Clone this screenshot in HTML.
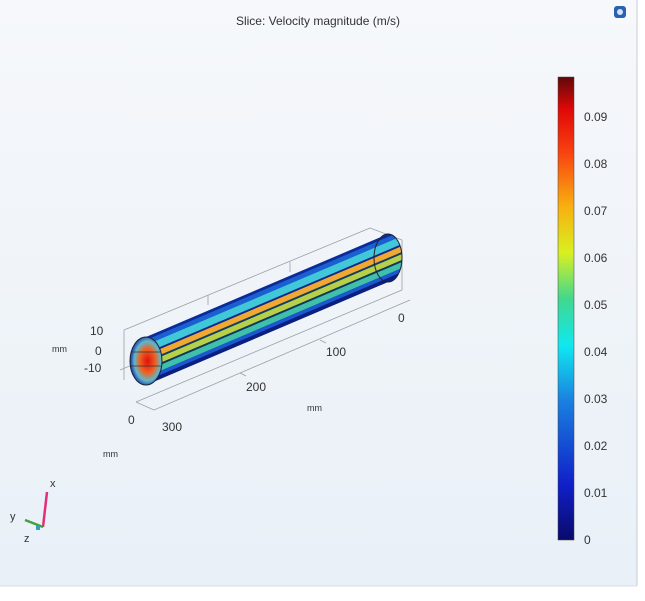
<!DOCTYPE html>
<html><head><style>
body{margin:0;width:645px;height:596px;background:#fff;overflow:hidden;font-family:"Liberation Sans",sans-serif;}
</style></head><body>
<svg width="645" height="596" viewBox="0 0 645 596" xmlns="http://www.w3.org/2000/svg" font-family="Liberation Sans, sans-serif">
<defs>
<linearGradient id="bg" x1="0" y1="0" x2="0" y2="1"><stop offset="0" stop-color="#f6f8fb"/><stop offset="1" stop-color="#e9f0f7"/></linearGradient>
<linearGradient id="cb" x1="0" y1="1" x2="0" y2="0">
<stop offset="0" stop-color="#0a0a6a"/><stop offset="0.12" stop-color="#1020c8"/><stop offset="0.3" stop-color="#1a80e0"/><stop offset="0.42" stop-color="#10e8f0"/><stop offset="0.52" stop-color="#40d890"/><stop offset="0.62" stop-color="#d8f020"/><stop offset="0.72" stop-color="#f8b010"/><stop offset="0.84" stop-color="#f84010"/><stop offset="0.93" stop-color="#e00808"/><stop offset="1" stop-color="#600808"/>
</linearGradient>
<radialGradient id="heat" cx="0.55" cy="0.5" r="0.55"><stop offset="0" stop-color="#e01010"/><stop offset="0.45" stop-color="#f06020"/><stop offset="0.75" stop-color="#60b8c8"/><stop offset="1" stop-color="#1030b0"/></radialGradient>
<clipPath id="cyl">
<polygon points="146,337 388,234 388,282 146,385"/>
<ellipse cx="388" cy="258" rx="14" ry="24"/>
</clipPath>
</defs>
<rect x="0" y="0" width="637" height="586" fill="url(#bg)"/>
<line x1="637" y1="0" x2="637" y2="586" stroke="#c8ccd2"/>
<line x1="0" y1="586" x2="637" y2="586" stroke="#d8dce0"/>
<text x="318" y="25" font-size="12" fill="#333" text-anchor="middle">Slice: Velocity magnitude (m/s)</text>
<rect x="614" y="6" width="12" height="12" rx="3" fill="#2a60b0"/><circle cx="620" cy="12" r="3" fill="#cfe4ff"/>
<g stroke="#9aa0a8" stroke-width="0.8" fill="none">
<line x1="124" y1="330" x2="370" y2="228"/><line x1="124" y1="330" x2="124" y2="380"/>
<line x1="136" y1="402" x2="402" y2="290"/><line x1="154" y1="410" x2="410" y2="300"/>
<line x1="120" y1="370" x2="368" y2="268"/><line x1="136" y1="402" x2="154" y2="410"/>
<line x1="208" y1="295" x2="208" y2="305"/><line x1="290" y1="262" x2="290" y2="272"/>
<line x1="240" y1="373" x2="246" y2="376"/><line x1="320" y1="340" x2="326" y2="343"/>
<line x1="370" y1="228" x2="402" y2="240"/><line x1="402" y1="240" x2="402" y2="290"/>
</g>
<g clip-path="url(#cyl)">
<g transform="matrix(242,-103,0,1,146,361)">
<rect x="0" y="-26" width="1.1" height="52" fill="#0c2a9a"/>
<rect x="0" y="-21" width="1.1" height="5" fill="#1a60d0"/>
<rect x="0" y="-16" width="1.1" height="8" fill="#40c8d8"/>
<rect x="0" y="-8" width="1.1" height="2" fill="#12288a"/>
<rect x="0" y="-6" width="1.1" height="6" fill="#f0a830"/>
<rect x="0" y="0" width="1.1" height="2" fill="#104060"/>
<rect x="0" y="2" width="1.1" height="6" fill="#b8d048"/>
<rect x="0" y="8" width="1.1" height="2" fill="#0e3a5a"/>
<rect x="0" y="10" width="1.1" height="6" fill="#40c0a8"/>
<rect x="0" y="16" width="1.1" height="4" fill="#1a58d0"/>
<rect x="0" y="20" width="1.1" height="6" fill="#0c1e80"/>
</g>
</g>
<ellipse cx="388" cy="258" rx="14" ry="24" fill="none" stroke="#223" stroke-width="1"/>
<ellipse cx="146" cy="361" rx="16" ry="24" fill="url(#heat)" stroke="#223" stroke-width="1"/>
<g stroke="#333" stroke-width="0.8"><line x1="131" y1="352" x2="161" y2="352"/><line x1="131" y1="366" x2="161" y2="366"/></g>
<g font-size="12" fill="#333">
<text x="90" y="335">10</text><text x="95" y="355">0</text><text x="84" y="372">-10</text>
<text x="52" y="352" font-size="9">mm</text>
<text x="128" y="424">0</text><text x="162" y="431">300</text>
<text x="103" y="457" font-size="9">mm</text>
<text x="246" y="391">200</text><text x="326" y="356">100</text><text x="398" y="322">0</text>
<text x="307" y="411" font-size="9">mm</text>
</g>
<line x1="43" y1="527" x2="47" y2="492" stroke="#e0307a" stroke-width="2.5"/>
<line x1="43" y1="527" x2="25" y2="520" stroke="#40a040" stroke-width="2.5"/>
<rect x="36" y="526" width="4" height="4" fill="#30a0c0"/>
<text x="50" y="487" font-size="11" fill="#333">x</text>
<text x="10" y="520" font-size="11" fill="#333">y</text>
<text x="24" y="542" font-size="11" fill="#333">z</text>
<rect x="558" y="77" width="16" height="463" fill="url(#cb)" stroke="#444" stroke-width="0.5"/>
<g font-size="12" fill="#333">
<text x="584" y="121">0.09</text><text x="584" y="168">0.08</text><text x="584" y="215">0.07</text>
<text x="584" y="262">0.06</text><text x="584" y="309">0.05</text><text x="584" y="356">0.04</text>
<text x="584" y="403">0.03</text><text x="584" y="450">0.02</text><text x="584" y="497">0.01</text>
<text x="584" y="544">0</text>
</g>
</svg>
</body></html>
